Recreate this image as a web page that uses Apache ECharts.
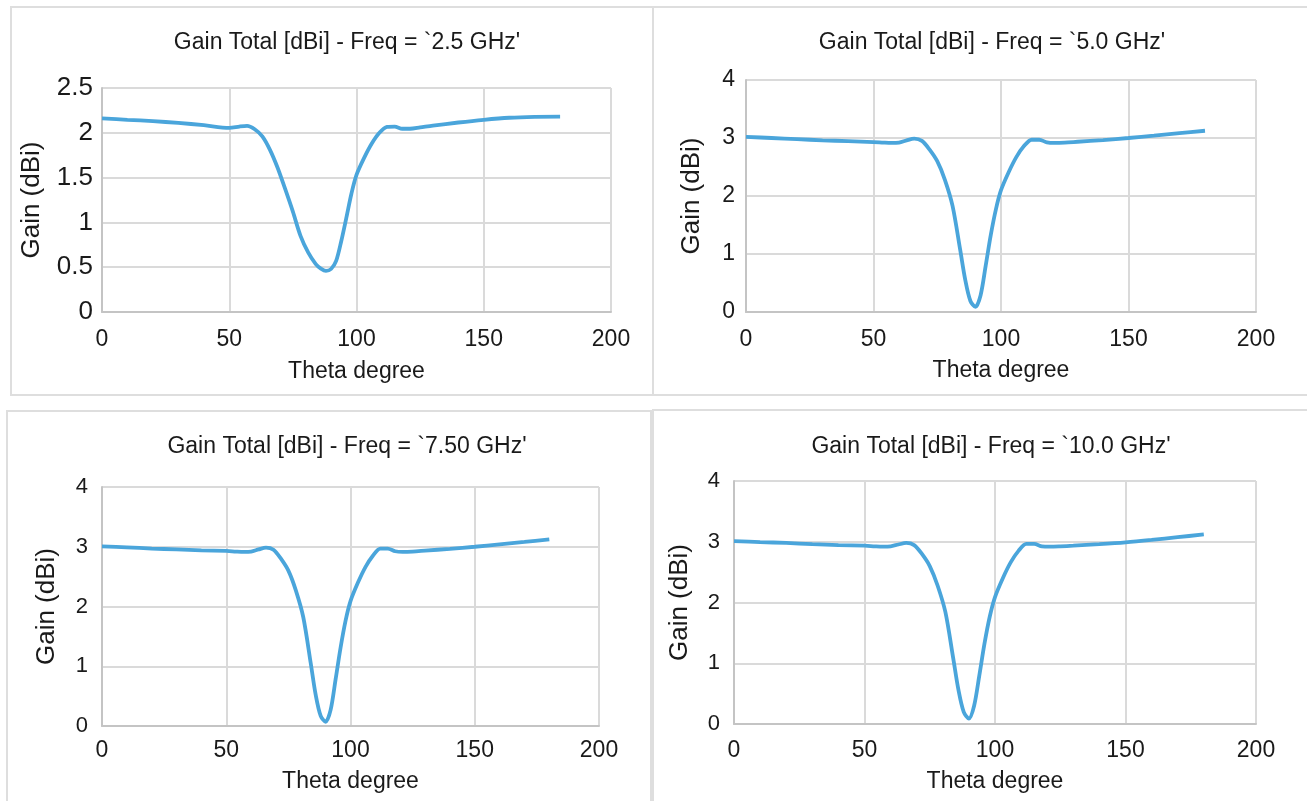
<!DOCTYPE html>
<html>
<head>
<meta charset="utf-8">
<script src="https://cdn.jsdelivr.net/npm/echarts@6/dist/echarts.min.js"></script>
<style>
  html, body { margin: 0; padding: 0; background: #fff; }
  #chart { width: 1307px; height: 801px; }
</style>
</head>
<body>
<div id="chart"></div>
<script>
// theta sample points (degrees)
const thetaDeg = [0, 10, 20, 30, 40, 50, 54, 57, 60, 63, 66, 69, 72, 75, 78, 81, 84, 86, 88, 90,
  92, 94, 96, 98, 100, 103, 106, 109, 112, 115, 118, 121, 125, 130, 140, 150, 160, 170, 180]

// gain total (dBi)
const gain25 = [2.16, 2.145, 2.13, 2.11, 2.085, 2.055, 2.07, 2.077, 2.04, 1.96, 1.81, 1.61, 1.37, 1.12, 0.85, 0.665, 0.535, 0.485, 0.46, 0.48,
  0.57, 0.79, 1.05, 1.32, 1.53, 1.72, 1.88, 2.0, 2.065, 2.07, 2.045, 2.045, 2.06, 2.08, 2.115, 2.145, 2.168, 2.178, 2.18]
const gain50 = [3.02, 3.0, 2.98, 2.96, 2.945, 2.93, 2.92, 2.915, 2.92, 2.96, 2.99, 2.95, 2.8, 2.6, 2.28, 1.83, 1.07, 0.55, 0.19, 0.09,
  0.29, 0.8, 1.33, 1.77, 2.1, 2.41, 2.67, 2.86, 2.97, 2.97, 2.925, 2.915, 2.92, 2.935, 2.965, 3.0, 3.04, 3.085, 3.125]
const gain75 = [3.005, 2.99, 2.97, 2.955, 2.94, 2.93, 2.92, 2.915, 2.92, 2.955, 2.985, 2.95, 2.8, 2.6, 2.27, 1.82, 1.05, 0.52, 0.17, 0.07,
  0.27, 0.78, 1.31, 1.76, 2.09, 2.4, 2.66, 2.85, 2.97, 2.97, 2.925, 2.915, 2.92, 2.935, 2.965, 3.0, 3.04, 3.08, 3.125]
const gain100 = [3.01, 2.995, 2.98, 2.96, 2.945, 2.935, 2.925, 2.92, 2.925, 2.955, 2.98, 2.945, 2.8, 2.6, 2.28, 1.84, 1.08, 0.56, 0.2, 0.09,
  0.3, 0.8, 1.33, 1.77, 2.09, 2.4, 2.66, 2.85, 2.965, 2.965, 2.925, 2.92, 2.925, 2.935, 2.96, 2.99, 3.03, 3.075, 3.12]

const freqTitles = [
  "Gain Total [dBi] - Freq = `2.5 GHz'",
  "Gain Total [dBi] - Freq = `5.0 GHz'",
  "Gain Total [dBi] - Freq = `7.50 GHz'",
  "Gain Total [dBi] - Freq = `10.0 GHz'"
]
const gainMax = [2.5, 4, 4, 4]
const gainStep = [0.5, 1, 1, 1]
const xName = 'Theta degree'
const yName = 'Gain (dBi)'

const FONT = '"Liberation Sans", Arial, Helvetica, sans-serif'
const TXT = '#1a1a1a'

// panel layout: plot rect, title centre, label/name gaps
const panels = [
  { left: 102, top: 88, width: 509, height: 224, tx: 347, ty: 31, xMargin: 16, yMargin: 9, yFont: 26, xGap: 48, yGap: 57 },
  { left: 746, top: 80, width: 510, height: 232, tx: 992, ty: 31, xMargin: 16, yMargin: 11, yFont: 23, xGap: 47, yGap: 41 },
  { left: 102, top: 487, width: 497, height: 239, tx: 347, ty: 435, xMargin: 13, yMargin: 14, yFont: 22, xGap: 44, yGap: 42 },
  { left: 734, top: 481, width: 522, height: 243, tx: 991, ty: 435, xMargin: 15, yMargin: 14, yFont: 22, xGap: 46, yGap: 41 }
]
const gains = [gain25, gain50, gain75, gain100]

const chart = echarts.init(document.getElementById('chart'), null, { renderer: 'canvas' })

const option = {
  backgroundColor: '#fff',
  animation: false,
  textStyle: { fontFamily: FONT },
  title: panels.map((p, i) => ({
    text: freqTitles[i],
    left: p.tx,
    top: p.ty,
    padding: 0,
    textAlign: 'center',
    textStyle: { fontFamily: FONT, fontSize: 23, fontWeight: 'normal', color: TXT }
  })),
  graphic: [
    // panel frames
    { type: 'rect', shape: { x: 11, y: 7, width: 642, height: 388 }, style: { fill: 'none', stroke: '#dedede', lineWidth: 2 }, silent: true },
    { type: 'rect', shape: { x: 653, y: 7, width: 680, height: 388 }, style: { fill: 'none', stroke: '#dedede', lineWidth: 2 }, silent: true },
    { type: 'rect', shape: { x: 7, y: 411, width: 644, height: 420 }, style: { fill: 'none', stroke: '#dedede', lineWidth: 2 }, silent: true },
    { type: 'rect', shape: { x: 653, y: 410, width: 680, height: 420 }, style: { fill: 'none', stroke: '#dedede', lineWidth: 2 }, silent: true }
  ],
  grid: panels.map(p => ({ left: p.left, top: p.top, width: p.width, height: p.height, containLabel: false })),
  xAxis: panels.map((p, i) => ({
    type: 'value',
    gridIndex: i,
    min: 0,
    max: 200,
    interval: 50,
    name: xName,
    nameLocation: 'middle',
    nameGap: p.xGap,
    nameTextStyle: { fontFamily: FONT, fontSize: 23, color: TXT },
    axisLine: { show: true, lineStyle: { color: '#c4c4c4', width: 2 } },
    axisTick: { show: false },
    axisLabel: { fontFamily: FONT, fontSize: 23, color: TXT, margin: p.xMargin },
    splitLine: { show: true, lineStyle: { color: '#dadada', width: 2 } }
  })),
  yAxis: panels.map((p, i) => ({
    type: 'value',
    gridIndex: i,
    min: 0,
    max: gainMax[i],
    interval: gainStep[i],
    name: yName,
    nameLocation: 'middle',
    nameGap: p.yGap,
    nameTextStyle: { fontFamily: FONT, fontSize: 26, color: TXT },
    axisLine: { show: true, lineStyle: { color: '#c4c4c4', width: 2 } },
    axisTick: { show: false },
    axisLabel: { fontFamily: FONT, fontSize: p.yFont, color: TXT, margin: p.yMargin },
    splitLine: { show: true, lineStyle: { color: '#dadada', width: 2 } }
  })),
  series: gains.map((g, i) => ({
    type: 'line',
    xAxisIndex: i,
    yAxisIndex: i,
    data: thetaDeg.map((t, k) => [t, g[k]]),
    smooth: 0.3,
    showSymbol: false,
    lineStyle: { color: '#4aa5db', width: 3.8 }
  }))
}

chart.setOption(option)
</script>
</body>
</html>
